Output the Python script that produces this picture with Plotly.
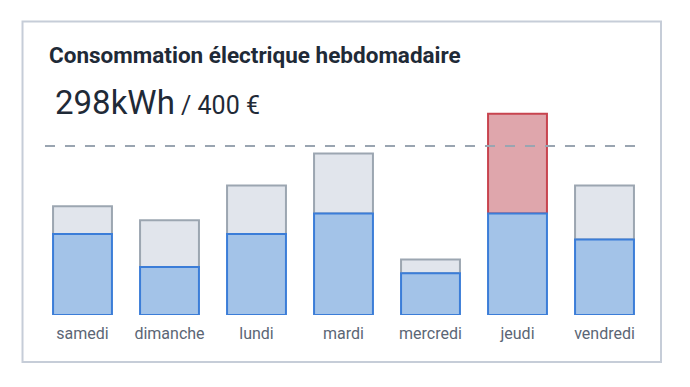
import plotly.graph_objects as go

# ---- data ----
jours = ["samedi", "dimanche", "lundi", "mardi", "mercredi", "jeudi", "vendredi"]
conso = [45.5, 27, 45.5, 57, 23.5, 57, 42.5]          # blue part (kWh)
surplus = [15.7, 26.3, 27.3, 33.8, 7.7, 56.1, 30.3]    # upper part
limite = 95
budget_eur = 400
titre = "Consommation électrique hebdomadaire"

# ---- geometry helpers (pixel -> paper) ----
W, H = 690, 387
L, R, T, B = 39, 41.5, 100, 72
PW, PH = W - L - R, H - T - B

def px(x):
    return (x - L) / PW

def py(y):
    return (H - B - y) / PH

totaux = [c + s for c, s in zip(conso, surplus)]
top_fill = ["#dfa6ac" if t > limite else "#e1e5ec" for t in totaux]
top_line = ["#c8444f" if t > limite else "#9ca6b1" for t in totaux]

fig = go.Figure()
fig.add_trace(go.Bar(
    x=jours, y=surplus, base=conso,
    marker=dict(color=top_fill, line=dict(color=top_line, width=2)),
    hoverinfo="skip", showlegend=False,
))
fig.add_trace(go.Bar(
    x=jours, y=conso,
    marker=dict(color="#a3c3e8", line=dict(color="#3b7dd8", width=2)),
    hoverinfo="skip", showlegend=False,
))

fig.add_shape(type="line", xref="paper", yref="y",
              x0=px(45), x1=px(643), y0=limite, y1=limite,
              line=dict(color="#9aa5b1", width=2, dash="10px,10px"), layer="above")

fig.add_shape(type="rect", xref="paper", yref="paper",
              x0=px(22.5), x1=px(661.5), y0=py(362), y1=py(21.5),
              line=dict(color="#c6cdd8", width=2), layer="below")

fig.add_annotation(xref="paper", yref="paper", x=px(47), y=py(55),
                   xanchor="left", yanchor="middle", showarrow=False,
                   text="<b>" + titre + "</b>",
                   font=dict(family="Roboto", size=22.5, color="#1f2a37"))
fig.add_annotation(xref="paper", yref="paper", x=px(53), y=py(102),
                   xanchor="left", yanchor="middle", showarrow=False,
                   text=f"<span style='font-size:33px'>{sum(conso):.0f}kWh</span> / {budget_eur} €",
                   font=dict(family="Roboto", size=25, color="#1f2a37"))

fig.update_layout(
    width=W, height=H,
    margin=dict(l=L, r=R, t=T, b=B),
    paper_bgcolor="white", plot_bgcolor="rgba(0,0,0,0)",
    barmode="overlay", bargap=0.323,
    xaxis=dict(showgrid=False, zeroline=False, showline=False, ticks="",
               tickfont=dict(family="Roboto", size=16, color="#5b6675"),
               ticklabelstandoff=7, range=[-0.5, 6.5]),
    yaxis=dict(visible=False, range=[0, PH * 298 / 530]),
)

fig.write_html("out.html", config={"displayModeBar": False},
               post_script="document.body.style.margin='0';")
